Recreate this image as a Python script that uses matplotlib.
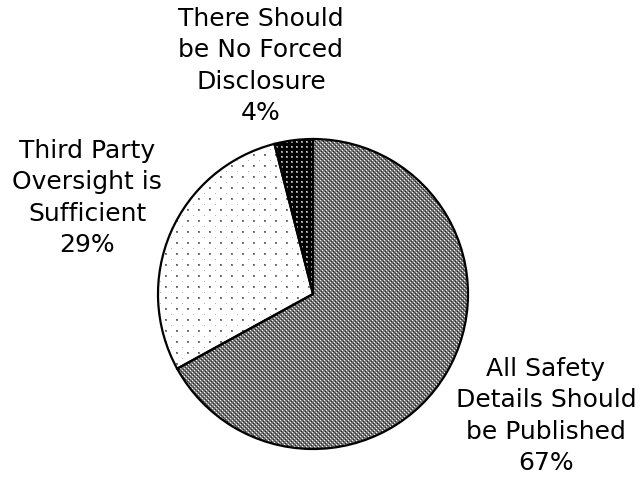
import numpy as np
import matplotlib
matplotlib.use("Agg")
import matplotlib.pyplot as plt

# Survey responses (percent)
categories = ["All Safety\nDetails Should\nbe Published",
              "Third Party\nOversight is\nSufficient",
              "There Should\nbe No Forced\nDisclosure"]
values = [67, 29, 4]

# Label anchor points (pixel space, origin bottom-left)
label_xy = [(546, 66), (87, 284), (261, 416)]

W, H = 641, 482
fig = plt.figure(figsize=(W / 100, H / 100), dpi=100)
ax = fig.add_axes([0, 0, 1, 1])

center = (313, H - 294)
radius = 155

wedges, _ = ax.pie(values, center=center, radius=radius, startangle=90,
                   counterclock=False, frame=True,
                   wedgeprops=dict(facecolor="none", edgecolor="black",
                                   linewidth=1.6, zorder=3))


def tile_texture(tile):
    tile = np.asarray(tile, dtype=float)
    ry = H // tile.shape[0] + 1
    rx = W // tile.shape[1] + 1
    img = np.tile(tile, (ry, rx))[:H, :W]
    return np.dstack([img, img, img])


# Fine grey screen
g = np.full((4, 4), 0.48)
g[0::2, 0::2] = 0.36
g[1::2, 1::2] = 0.56
g[0, 0] = 0.95
g[2, 2] = 0.95
g[1, 3] = 0.15
g[3, 1] = 0.15
grey_tex = tile_texture(g)

# Sparse dot screen on white
d = np.ones((11, 11))
d[0:2, 0:2] = 0.5
d[0, 0] = 0.35
d[6, 6] = 0.7
dot_tex = tile_texture(d)

# Light dots on black
b = np.zeros((5, 5))
b[1:3, 1:3] = 0.55
b[1, 1] = 0.8
black_tex = tile_texture(b)

for wedge, tex in zip(wedges, [grey_tex, dot_tex, black_tex]):
    im = ax.imshow(tex, extent=(0, W, 0, H), origin="upper",
                   interpolation="nearest", zorder=2)
    im.set_clip_path(wedge)

for name, v, (x, y) in zip(categories, values, label_xy):
    ax.text(x, y, f"{name}\n{v}%", ha="center", va="center",
            fontsize=18, family="DejaVu Sans", linespacing=1.4,
            color="black")

ax.set_xlim(0, W)
ax.set_ylim(0, H)
ax.set_aspect("auto")
ax.axis("off")

fig.savefig("out.png", dpi=100, facecolor="white")
